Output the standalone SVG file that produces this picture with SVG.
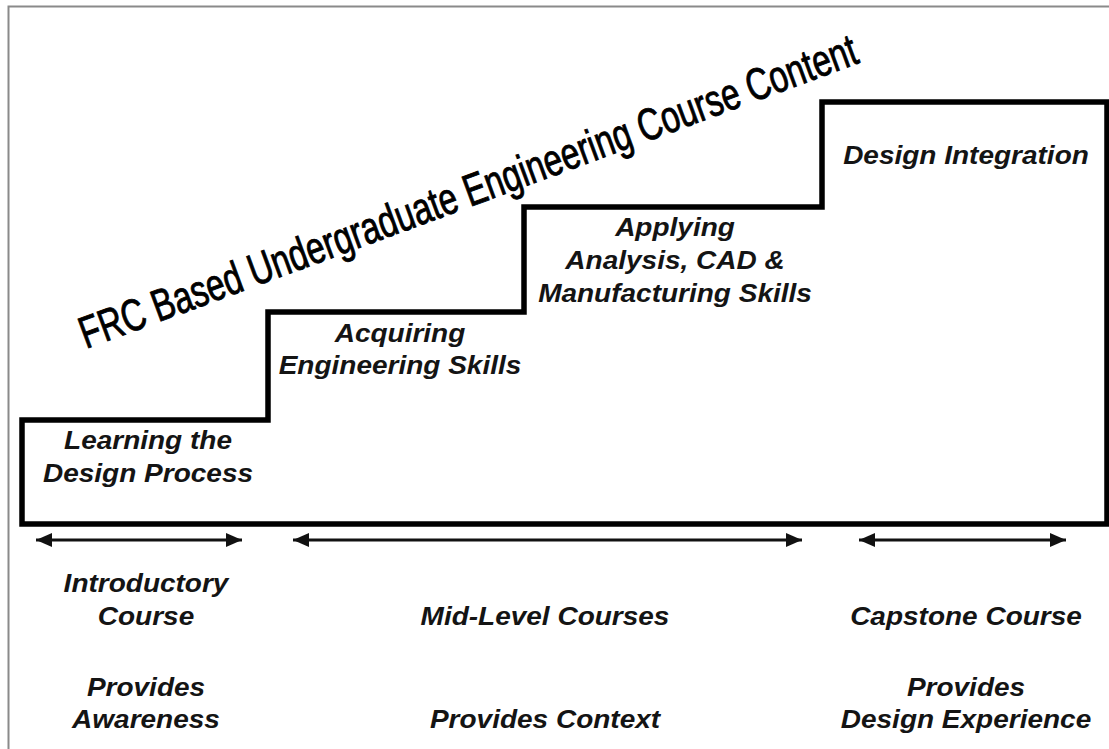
<svg xmlns="http://www.w3.org/2000/svg" width="1109" height="749" viewBox="0 0 1109 749">
<defs>
<style>
.lbl{font-family:"Liberation Sans",Arial,sans-serif;font-weight:bold;font-style:italic;font-size:25px;fill:#141414;text-anchor:middle}
.title{font-family:"Liberation Sans",Arial,sans-serif;font-size:45px;fill:#000;stroke:#000;stroke-width:0.9}
.arr{stroke:#111;stroke-width:2.8;fill:none;marker-start:url(#ah);marker-end:url(#ah)}
</style>
<marker id="ah" viewBox="0 0 16 14" refX="16" refY="7" markerWidth="16" markerHeight="14" markerUnits="userSpaceOnUse" orient="auto-start-reverse">
<path d="M0,0 L16,7 L0,14 Z" fill="#111"/>
</marker>
</defs>
<rect x="0" y="0" width="1109" height="749" fill="#fff"/>
<rect id="frame" x="8.5" y="6.5" width="1110" height="760" fill="none" stroke="#8a8a8a" stroke-width="2"/>
<g id="staircase">
<path d="M22,524 L22,420 L268,420 L268,312 L524,312 L524,207 L822,207 L822,102 L1107,102 L1107,524 Z" fill="none" stroke="#000" stroke-width="5.5" stroke-linejoin="miter"/>
</g>
<g id="title">
<text class="title" transform="translate(86 349) rotate(-20.3)" x="0" y="0" textLength="826" lengthAdjust="spacingAndGlyphs">FRC Based Undergraduate Engineering Course Content</text>
</g>
<g id="step1">
<text class="lbl" transform="translate(148 449) scale(1.12 1)">Learning the</text>
<text class="lbl" transform="translate(148 482) scale(1.12 1)">Design Process</text>
</g>
<g id="step2">
<text class="lbl" transform="translate(400 342) scale(1.12 1)">Acquiring</text>
<text class="lbl" transform="translate(400 374) scale(1.12 1)">Engineering Skills</text>
</g>
<g id="step3">
<text class="lbl" transform="translate(675 236) scale(1.12 1)">Applying</text>
<text class="lbl" transform="translate(675 269) scale(1.12 1)">Analysis, CAD &amp;</text>
<text class="lbl" transform="translate(675 302) scale(1.12 1)">Manufacturing Skills</text>
</g>
<g id="step4">
<text class="lbl" transform="translate(966 164) scale(1.12 1)">Design Integration</text>
</g>
<g id="connectors">
<line class="arr" x1="36" y1="540" x2="242" y2="540"/>
<line class="arr" x1="293" y1="540" x2="802" y2="540"/>
<line class="arr" x1="859" y1="540" x2="1066" y2="540"/>
</g>
<g id="intro">
<text class="lbl" transform="translate(146 592) scale(1.12 1)">Introductory</text>
<text class="lbl" transform="translate(146 625) scale(1.12 1)">Course</text>
<text class="lbl" transform="translate(146 696) scale(1.12 1)">Provides</text>
<text class="lbl" transform="translate(146 728) scale(1.12 1)">Awareness</text>
</g>
<g id="mid">
<text class="lbl" transform="translate(545 625) scale(1.12 1)">Mid-Level Courses</text>
<text class="lbl" transform="translate(545 728) scale(1.12 1)">Provides Context</text>
</g>
<g id="capstone">
<text class="lbl" transform="translate(966 625) scale(1.12 1)">Capstone Course</text>
<text class="lbl" transform="translate(966 696) scale(1.12 1)">Provides</text>
<text class="lbl" transform="translate(966 728) scale(1.12 1)">Design Experience</text>
</g>
</svg>
